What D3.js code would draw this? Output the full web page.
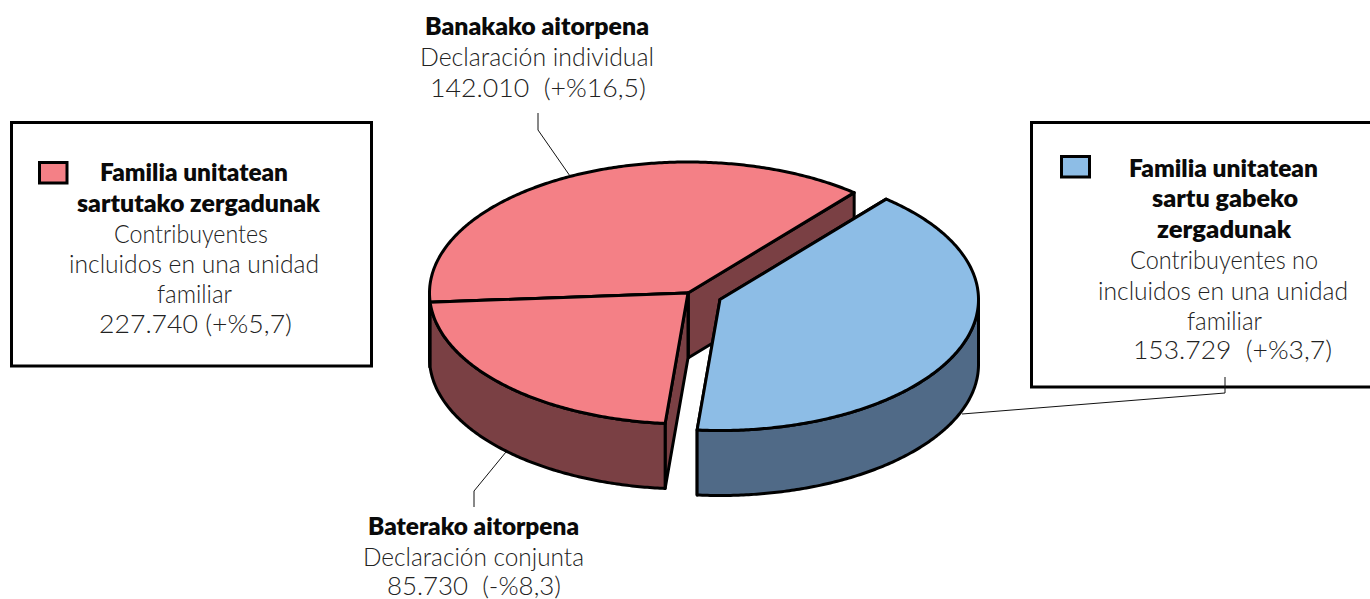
<!DOCTYPE html>
<html><head><meta charset="utf-8">
<script src="https://cdnjs.cloudflare.com/ajax/libs/d3/7.8.5/d3.min.js"></script>
<style>html,body{margin:0;padding:0;background:#fff;overflow:hidden}svg{display:block}</style>
</head><body><svg id="c" width="1370" height="599"></svg>
<script>
// ---- data ----
const categories = ["Familia unitatean sartu gabeko zergadunak","Baterako aitorpena","Banakako aitorpena"];
const values = [153729, 85730, 142010];
const labelLines = [
 ["Banakako aitorpena","b"],["Declaración individual","l"],["142.010  (+%16,5)","l"],
 ["Baterako aitorpena","b"],["Declaración conjunta","l"],["85.730  (-%8,3)","l"],
 ["Familia unitatean","b"],["sartutako zergadunak","b"],["Contribuyentes","l"],["incluidos en una unidad","l"],["familiar","l"],["227.740 (+%5,7)","l"],
 ["Familia unitatean","b"],["sartu gabeko","b"],["zergadunak","b"],["Contribuyentes no","l"],["incluidos en una unidad","l"],["familiar","l"],["153.729  (+%3,7)","l"]
];
// ---- layout (left, right, baseline for each label line) ----
const lineBoxes = [
 [425,649,35],[420,654,66],[430,646,97],
 [368,579,535],[363,584,566],[387,561,594.5],
 [100,288,181],[77,320,212],[114,268,243],[69,319,273],[157,232,303],[99,292,333],
 [1129,1318,177],[1152,1298,207],[1157,1291,238],[1130,1318,269],[1098,1348,300],[1187,1262,330],[1133,1332,359]
];
const colors = {top:["#8dbde6","#f48086","#f48086"], side:["#506a87","#7a4044","#7a4044"]};
const centers = [[720,299.5],[688,293],[688,293]];
const rx = 258.5, ry = 131, depth = 65;

const svg = d3.select("#c");
const pie = d3.pie().sort(null).startAngle(40*Math.PI/180).endAngle((40+360)*Math.PI/180);
const arcs = pie(values);
const xS = d3.scaleLinear().domain([-1,1]).range([-rx,rx]);
const yS = d3.scaleLinear().domain([-1,1]).range([-ry,ry]);
const pt = (a,c,dy=0)=>[c[0]+xS(Math.sin(a)), c[1]+yS(-Math.cos(a))+dy];
const line = d3.line();
const steps = (a0,a1)=>{const n=Math.max(2,Math.ceil((a1-a0)/0.01));return d3.range(n+1).map(i=>a0+(a1-a0)*i/n);};
const styled=(p,fill)=>p.attr("fill",fill).attr("stroke","#000").attr("stroke-width",3).attr("stroke-linejoin","round");

function drawSlice(i){
  const d=arcs[i], c=centers[i], g=svg.append("g");
  const a0=d.startAngle,a1=d.endAngle;
  const wall=a=>{const p=pt(a,c);return line([c,p,[p[0],p[1]+depth],[c[0],c[1]+depth]])+"Z";};
  // cut walls
  styled(g.append("path").attr("d",wall(a1)),colors.side[i]);
  styled(g.append("path").attr("d",wall(a0)),colors.side[i]);
  // outer rim: only the front half of the ellipse shows
  const vis0=Math.max(a0,Math.PI/2), vis1=Math.min(a1,1.5*Math.PI);
  if(vis1>vis0){
    const s=steps(vis0,vis1);
    styled(g.append("path").attr("d",line(s.map(a=>pt(a,c)).concat(s.slice().reverse().map(a=>pt(a,c,depth))))+"Z"),colors.side[i]);
  }
  // top
  styled(g.append("path").attr("d",line([c].concat(steps(a0,a1).map(a=>pt(a,c))))+"Z"),colors.top[i]);
}
// red slices first, blue (exploded) in front
drawSlice(2); drawSlice(1); drawSlice(0);

// boxes
svg.append("rect").attr("x",11.5).attr("y",122.5).attr("width",360).attr("height",243.5)
  .attr("fill","none").attr("stroke","#000").attr("stroke-width",3);
svg.append("path").attr("d",line([[1372,122.5],[1031.5,122.5],[1031.5,387],[1372,387]]))
  .attr("fill","none").attr("stroke","#000").attr("stroke-width",3);
// legend swatches
svg.append("rect").attr("x",39.5).attr("y",162.5).attr("width",27.5).attr("height",20.5).attr("fill",colors.top[1]).attr("stroke","#000").attr("stroke-width",3);
svg.append("rect").attr("x",1061.5).attr("y",156.5).attr("width",28).attr("height",20.5).attr("fill",colors.top[0]).attr("stroke","#000").attr("stroke-width",3);

// leaders
[[[538,113],[538,130],[570,176]],
 [[474,507],[474,491],[506,452]],
 [[1225,377],[1225,393],[962,414]]].forEach(p=>
  svg.append("path").attr("d",line(p)).attr("fill","none").attr("stroke","#111").attr("stroke-width",1));

// text
svg.selectAll("text.t").data(labelLines).join("text").attr("class","t")
  .attr("x",(d,i)=>lineBoxes[i][0]).attr("y",(d,i)=>lineBoxes[i][2])
  .attr("textLength",(d,i)=>lineBoxes[i][1]-lineBoxes[i][0])
  .attr("lengthAdjust","spacingAndGlyphs")
  .style("white-space","pre")
  .attr("font-family","Lato, 'Open Sans', sans-serif")
  .attr("font-size",d=>d[1]==="b"?24:25)
  .attr("font-weight",d=>d[1]==="b"?800:300)
  .attr("fill",d=>d[1]==="b"?"#0a0a0a":"#222")
  .text(d=>d[0]);
</script></body></html>
